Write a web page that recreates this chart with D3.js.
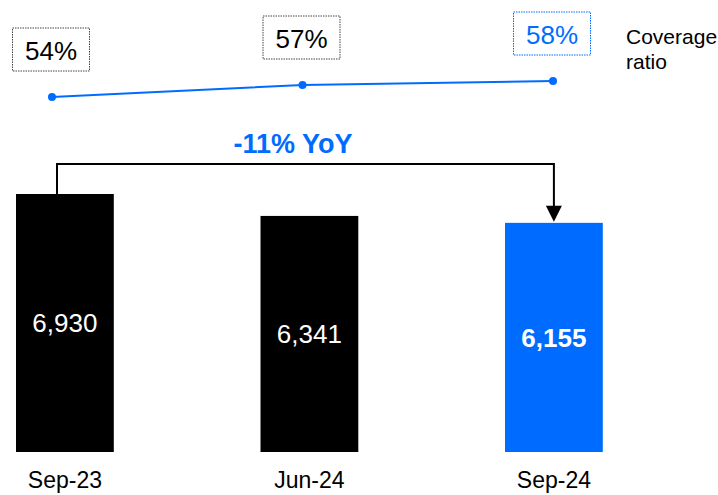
<!DOCTYPE html>
<html>
<head>
<meta charset="utf-8">
<script src="https://cdn.jsdelivr.net/npm/d3@7"></script>
<style>
  html, body { margin: 0; padding: 0; background: #fff; }
  svg { display: block; font-family: "Liberation Sans", Arial, sans-serif; }
</style>
</head>
<body>
<svg id="chart" width="718" height="495"></svg>
<script>
// Loan volumes by quarter-end and the coverage ratio above them
const categories = ["Sep-23", "Jun-24", "Sep-24"];
const volumes = [6930, 6341, 6155];
const volumeLabels = ["6,930", "6,341", "6,155"];
const coverage = [54, 57, 58];
const coverageLabels = ["54%", "57%", "58%"];
const changeLabel = "-11% YoY";

const BLUE = "#006cff";
const svg = d3.select("#chart");

// Bars
const x = d3.scaleBand().domain(categories).range([16, 602.8]).paddingInner(0.6).paddingOuter(0);
const y = d3.scaleLinear().domain([0, 6930]).range([452, 194]);

const isLast = (i) => i === categories.length - 1;

svg.append("g").selectAll("rect")
  .data(categories)
  .join("rect")
  .attr("x", d => x(d))
  .attr("y", (d, i) => y(volumes[i]))
  .attr("width", x.bandwidth())
  .attr("height", (d, i) => y(0) - y(volumes[i]))
  .attr("fill", (d, i) => isLast(i) ? BLUE : "#000");

svg.append("g").selectAll("text")
  .data(categories)
  .join("text")
  .attr("x", d => x(d) + x.bandwidth() / 2)
  .attr("y", (d, i) => (y(volumes[i]) + y(0)) / 2)
  .attr("dy", "0.36em")
  .attr("text-anchor", "middle")
  .attr("fill", "#fff")
  .attr("font-size", 26)
  .attr("font-weight", (d, i) => isLast(i) ? "bold" : "normal")
  .text((d, i) => volumeLabels[i]);

// Category axis labels
const xAxis = d3.axisBottom(x).tickSize(0).tickPadding(0);
const ax = svg.append("g").attr("transform", "translate(0,488)").call(xAxis);
ax.select(".domain").remove();
ax.selectAll("text")
  .attr("font-size", 23)
  .attr("font-family", "Liberation Sans, Arial, sans-serif")
  .attr("fill", "#000")
  .attr("dy", "0");

// Year-on-year connector from the first to the last bar
const xFirst = x(categories[0]) + 41;
const xLast = x(categories[2]) + x.bandwidth() / 2;
const yTop = 164;
const tipY = y(volumes[2]) - 1;
svg.append("path")
  .attr("d", `M${xFirst},${y(volumes[0])} V${yTop} H${xLast} V${tipY - 14}`)
  .attr("fill", "none")
  .attr("stroke", "#000")
  .attr("stroke-width", 2);
svg.append("path")
  .attr("d", `M${xLast - 8},${tipY - 16} L${xLast + 8},${tipY - 16} L${xLast},${tipY} Z`)
  .attr("fill", "#000");
svg.append("text")
  .attr("x", 293)
  .attr("y", 153)
  .attr("text-anchor", "middle")
  .attr("fill", BLUE)
  .attr("font-size", 27)
  .attr("font-weight", "bold")
  .text(changeLabel);

// Coverage ratio line
const xp = d3.scalePoint().domain(categories).range([52, 553]);
const yc = d3.scaleLinear().domain([54, 58]).range([97, 81]);

svg.append("path")
  .datum(categories)
  .attr("d", d3.line().x(d => xp(d)).y((d, i) => yc(coverage[i])))
  .attr("fill", "none")
  .attr("stroke", BLUE)
  .attr("stroke-width", 2);

svg.append("g").selectAll("circle")
  .data(categories)
  .join("circle")
  .attr("cx", d => xp(d))
  .attr("cy", (d, i) => yc(coverage[i]))
  .attr("r", 4)
  .attr("fill", BLUE);

// Dotted boxes holding the ratio labels
const boxW = 77, boxH = 43;
const boxes = svg.append("g").selectAll("g")
  .data(categories)
  .join("g")
  .attr("transform", (d, i) => `translate(${xp(d) - 1},${yc(coverage[i]) - 26})`);
boxes.append("rect")
  .attr("x", -boxW / 2)
  .attr("y", -boxH)
  .attr("width", boxW)
  .attr("height", boxH)
  .attr("fill", "#fff")
  .attr("stroke", (d, i) => isLast(i) ? BLUE : "#444")
  .attr("stroke-width", 1)
  .attr("stroke-dasharray", "1.5,1");
boxes.append("text")
  .attr("x", 0)
  .attr("y", -boxH / 2 + 1)
  .attr("dy", "0.36em")
  .attr("text-anchor", "middle")
  .attr("font-size", 26)
  .attr("fill", (d, i) => isLast(i) ? BLUE : "#000")
  .text((d, i) => coverageLabels[i]);

// Series caption
const cap = svg.append("text")
  .attr("font-size", 21)
  .attr("fill", "#000");
cap.append("tspan").attr("x", 626).attr("y", 44).text("Coverage");
cap.append("tspan").attr("x", 626).attr("y", 69).text("ratio");
</script>
</body>
</html>
